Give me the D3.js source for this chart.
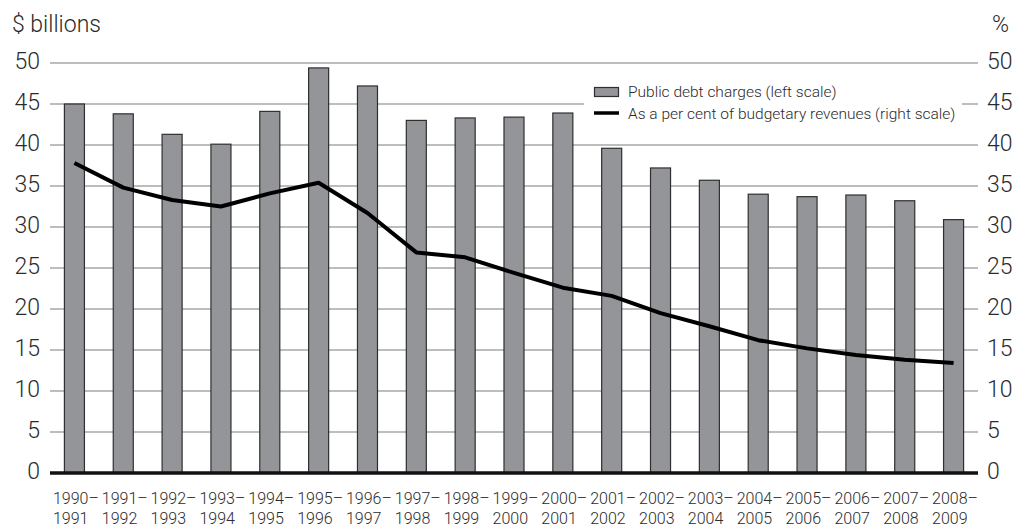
<!DOCTYPE html>
<html>
<head>
<meta charset="utf-8">
<script src="https://cdn.jsdelivr.net/npm/d3@7"></script>
<style>
  html, body { margin: 0; padding: 0; background: #fff; }
  svg text { font-family: Roboto, "Liberation Sans", Arial, sans-serif; font-weight: 300; fill: #2b2b2b; }
</style>
</head>
<body>
<svg id="chart" width="1015" height="527"></svg>
<script>
// Fiscal years
const years = ["1990–1991","1991–1992","1992–1993","1993–1994","1994–1995","1995–1996","1996–1997",
  "1997–1998","1998–1999","1999–2000","2000–2001","2001–2002","2002–2003","2003–2004","2004–2005",
  "2005–2006","2006–2007","2007–2008","2008–2009"];

// Public debt charges, $ billions (left scale)
const debtCharges = [45.0, 43.8, 41.3, 40.1, 44.1, 49.4, 47.2, 43.0, 43.3, 43.4, 43.9,
  39.6, 37.2, 35.7, 34.0, 33.7, 33.9, 33.2, 30.9];

// Debt charges as a per cent of budgetary revenues (right scale)
const pctRevenues = [37.8, 34.8, 33.3, 32.5, 34.1, 35.4, 31.7, 26.9, 26.3, 24.4, 22.6,
  21.6, 19.5, 17.9, 16.2, 15.2, 14.4, 13.8, 13.4];

const tickValues = [0, 5, 10, 15, 20, 25, 30, 35, 40, 45, 50];

const svg = d3.select("#chart");
const plotLeft = 50, plotRight = 978, plotTop = 63, plotBottom = 473;

const x = d3.scaleBand().domain(years).range([plotLeft, plotRight]).paddingInner(0.59).paddingOuter(0.295);
const yL = d3.scaleLinear().domain([0, 50]).range([plotBottom, plotTop]);
const yR = d3.scaleLinear().domain([0, 50]).range([plotBottom, plotTop]);

// Horizontal gridlines
svg.append("g").selectAll("line").data(tickValues.filter(d => d > 0)).join("line")
  .attr("x1", plotLeft).attr("x2", plotRight)
  .attr("y1", d => yL(d)).attr("y2", d => yL(d))
  .attr("stroke", "#a7a7a7").attr("stroke-width", 1.5);

function styleAxis(g) {
  g.select(".domain").remove();
  g.selectAll("text").attr("dy", "0.22em")
    .style("font-size", "23px").style("font-family", null).attr("font-family", null)
    .attr("fill", "#2b2b2b");
}

// Left axis labels
svg.append("g").attr("transform", `translate(${plotLeft},0)`)
  .call(d3.axisLeft(yL).tickValues(tickValues).tickSize(0).tickPadding(10))
  .attr("font-family", null).attr("font-size", null)
  .call(styleAxis);

// Right axis labels
svg.append("g").attr("transform", `translate(${plotRight},0)`)
  .call(d3.axisRight(yR).tickValues(tickValues).tickSize(0).tickPadding(9))
  .attr("font-family", null).attr("font-size", null)
  .call(styleAxis);

// Axis titles
svg.append("text").attr("x", 12).attr("y", 32).style("font-size", "23px").text("$ billions");
svg.append("text").attr("x", 1009).attr("y", 32).attr("text-anchor", "end").style("font-size", "23px").text("%");

// Bars
svg.append("g").selectAll("rect").data(years).join("rect")
  .attr("x", d => x(d)).attr("width", x.bandwidth())
  .attr("y", (d, i) => yL(debtCharges[i]))
  .attr("height", (d, i) => yL(0) - yL(debtCharges[i]))
  .attr("fill", "#939598").attr("stroke", "#2f2f2f").attr("stroke-width", 1.2);

// Zero baseline
svg.append("line").attr("x1", plotLeft).attr("x2", plotRight)
  .attr("y1", yL(0)).attr("y2", yL(0))
  .attr("stroke", "#111").attr("stroke-width", 3.5);

// Percentage line
const line = d3.line()
  .x((d, i) => x(years[i]) + x.bandwidth() / 2)
  .y(d => yR(d));
svg.append("path").datum(pctRevenues)
  .attr("d", line).attr("fill", "none")
  .attr("stroke", "#000").attr("stroke-width", 4).attr("stroke-linejoin", "round");

// Category labels, two lines each
const labelX = d => x(d) + x.bandwidth() / 2 - 21.5;
const xl = svg.append("g").selectAll("text").data(years).join("text")
  .attr("x", labelX)
  .style("font-size", "16px");
xl.append("tspan").attr("y", 504).attr("x", labelX)
  .text(d => d.split("–")[0] + "–");
xl.append("tspan").attr("y", 524).attr("x", labelX)
  .text(d => d.split("–")[1]);

// Legend
const lg = svg.append("g");
lg.append("rect").attr("x", 584).attr("y", 80).attr("width", 378).attr("height", 48).attr("fill", "#fff");
lg.append("rect").attr("x", 594.5).attr("y", 87.5).attr("width", 24).attr("height", 9)
  .attr("fill", "#939598").attr("stroke", "#2f2f2f").attr("stroke-width", 1.2);
lg.append("text").attr("x", 628).attr("y", 97).style("font-size", "15.5px").text("Public debt charges (left scale)");
lg.append("line").attr("x1", 594).attr("x2", 619).attr("y1", 113).attr("y2", 113)
  .attr("stroke", "#000").attr("stroke-width", 3.5);
lg.append("text").attr("x", 628).attr("y", 119).style("font-size", "15.5px").text("As a per cent of budgetary revenues (right scale)");
</script>
</body>
</html>
